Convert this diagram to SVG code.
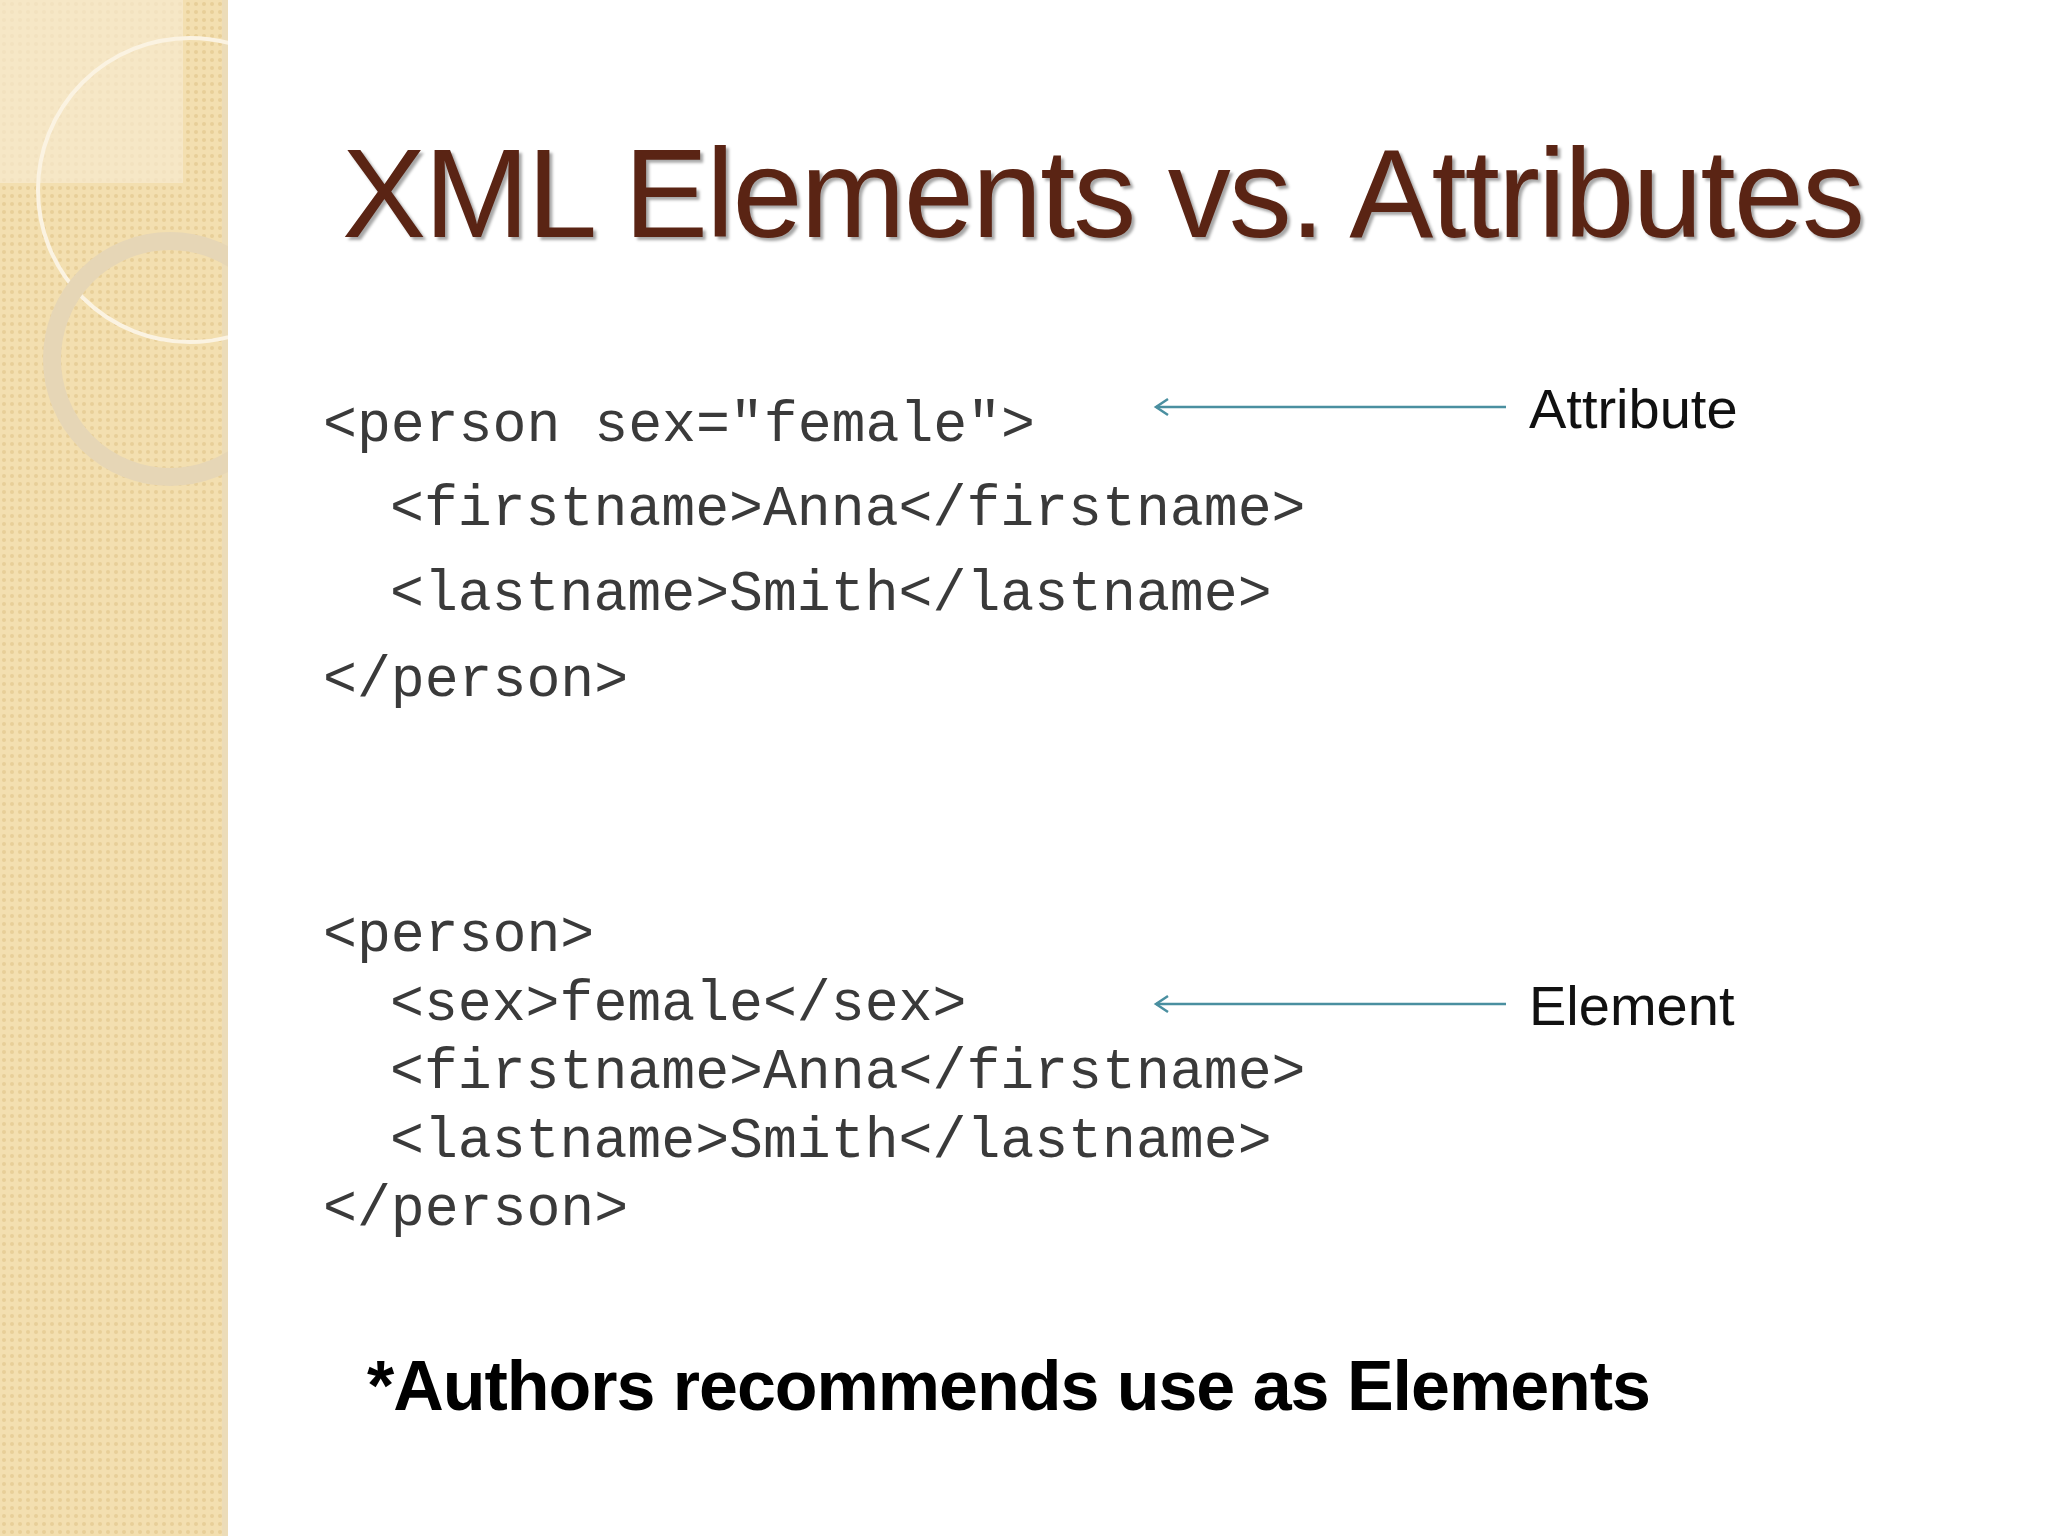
<svg xmlns="http://www.w3.org/2000/svg" width="2048" height="1536" viewBox="0 0 2048 1536">
<defs>
<style>
.code{font-family:"Liberation Mono",monospace;font-size:56.5px;fill:#3a3a3a}
.lab{font-family:"Liberation Sans",Arial,sans-serif;font-size:56px;fill:#111}
.arr{stroke:#4a8fa0;stroke-width:2.5;fill:none}
</style>
<pattern id="dots" width="8" height="8" patternUnits="userSpaceOnUse">
<rect width="8" height="8" fill="#f3dfb0"/>
<circle cx="4" cy="4" r="2" fill="#e8cf98"/>
</pattern>
<clipPath id="sc"><rect x="0" y="0" width="228" height="1536"/></clipPath>
</defs>
<rect width="2048" height="1536" fill="#fff"/>
<g id="strip" clip-path="url(#sc)">
<rect x="0" y="0" width="226" height="1536" fill="url(#dots)"/>
<rect x="222" y="0" width="6" height="1536" fill="#ecdcb8"/>
<rect x="0" y="0" width="183" height="183" fill="#f7ead0" opacity="0.7"/>
<circle cx="190" cy="190" r="152" fill="none" stroke="#fbf3e2" stroke-width="4"/>
<circle cx="170" cy="359" r="118" fill="none" stroke="#e6d6b6" stroke-width="18"/>
</g>
<text x="342" y="237" font-family="Liberation Sans,Arial,sans-serif" font-size="126" fill="#5a2414" textLength="1523" style="text-shadow:3px 3px 3px rgba(0,0,0,0.35)">XML Elements vs. Attributes</text>
<g id="block1">
<text class="code" x="323" y="441">&lt;person sex="female"&gt;</text>
<text class="code" x="390" y="525">&lt;firstname&gt;Anna&lt;/firstname&gt;</text>
<text class="code" x="390" y="610">&lt;lastname&gt;Smith&lt;/lastname&gt;</text>
<text class="code" x="323" y="696">&lt;/person&gt;</text>
</g>
<g id="block2">
<text class="code" x="323" y="951">&lt;person&gt;</text>
<text class="code" x="390" y="1020">&lt;sex&gt;female&lt;/sex&gt;</text>
<text class="code" x="390" y="1088">&lt;firstname&gt;Anna&lt;/firstname&gt;</text>
<text class="code" x="390" y="1157">&lt;lastname&gt;Smith&lt;/lastname&gt;</text>
<text class="code" x="323" y="1225">&lt;/person&gt;</text>
</g>
<g id="connectors">
<line class="arr" x1="1506" y1="407" x2="1156" y2="407"/>
<path class="arr" d="M1168 399 L1156 407 L1168 415"/>
<line class="arr" x1="1506" y1="1004" x2="1156" y2="1004"/>
<path class="arr" d="M1168 996 L1156 1004 L1168 1012"/>
</g>
<g id="labels">
<text class="lab" x="1529" y="428">Attribute</text>
<text class="lab" x="1529" y="1025">Element</text>
</g>
<text x="367" y="1410" font-family="Liberation Sans,Arial,sans-serif" font-weight="bold" font-size="70" fill="#000" textLength="1284">*Authors recommends use as Elements</text>
</svg>
